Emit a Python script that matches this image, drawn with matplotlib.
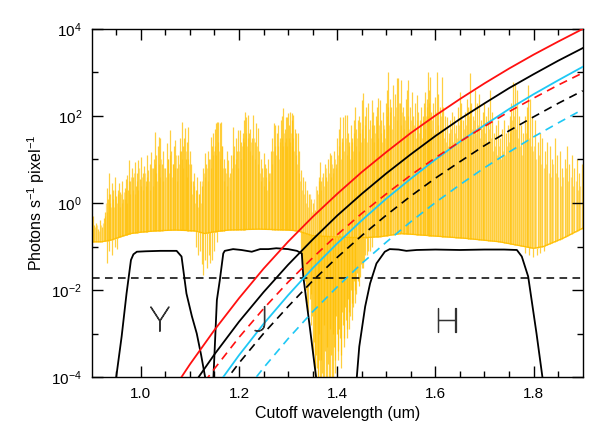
import numpy as np
import matplotlib
matplotlib.use("Agg")
import matplotlib.pyplot as plt
import matplotlib.patheffects as pe
from matplotlib.ticker import FixedLocator, NullFormatter, LogFormatterMathtext

plt.rcParams['font.family'] = ['Liberation Sans', 'DejaVu Sans']
plt.rcParams['mathtext.default'] = 'regular'

# ---------------- data (log10 values) ----------------
# sky continuum
cont_wl = [0.90, 0.92, 0.94, 0.96, 0.98, 1.00, 1.03, 1.07, 1.11, 1.13, 1.15, 1.18, 1.24,
           1.30, 1.32, 1.35, 1.40, 1.45, 1.49, 1.53, 1.60, 1.66, 1.73, 1.80, 1.82, 1.86, 1.90]
cont_log = [-0.89, -0.89, -0.85, -0.77, -0.70, -0.67, -0.64, -0.62, -0.64, -0.70, -0.66, -0.62, -0.60,
            -0.62, -0.64, -0.75, -0.78, -0.80, -0.77, -0.70, -0.76, -0.81, -0.89, -1.04, -1.00, -0.81, -0.58]

# strong OH emission lines: wavelength and log10 peak
oh_wl = [0.902, 0.905, 0.909, 0.913, 0.917, 0.921, 0.925, 0.928,
         0.931, 0.933, 0.936, 0.938, 0.941, 0.944, 0.947, 0.950, 0.953, 0.956, 0.958, 0.961, 0.964, 0.967, 0.969,
         0.971, 0.974, 0.977, 0.979, 0.982, 0.985, 0.988, 0.990, 0.993, 0.995, 0.998, 1.001, 1.004, 1.007, 1.010,
         1.012, 1.015, 1.018, 1.021, 1.024, 1.027,
         1.029, 1.032, 1.035, 1.038, 1.040, 1.043, 1.046, 1.049, 1.053, 1.056, 1.059, 1.062, 1.065, 1.068, 1.070,
         1.073, 1.076, 1.079, 1.081, 1.083, 1.086, 1.088, 1.090, 1.093, 1.095, 1.097, 1.100,
         1.103, 1.106, 1.109, 1.112, 1.115, 1.118, 1.121, 1.124, 1.127, 1.130, 1.133, 1.136, 1.139, 1.142, 1.145, 1.148,
         1.151, 1.153, 1.155, 1.158, 1.161, 1.163, 1.166, 1.169, 1.172, 1.175, 1.178, 1.181, 1.184, 1.187, 1.190,
         1.193, 1.196, 1.199,
         1.202, 1.205, 1.208, 1.210, 1.212, 1.215, 1.218, 1.220, 1.223, 1.226, 1.229, 1.232, 1.235, 1.238, 1.241, 1.244,
         1.247, 1.250, 1.253, 1.256, 1.259, 1.262, 1.265, 1.268, 1.271, 1.274,
         1.277, 1.280, 1.283, 1.286, 1.288, 1.290, 1.293, 1.295, 1.297, 1.300, 1.302, 1.304, 1.307, 1.309, 1.311,
         1.314, 1.317, 1.320, 1.323,
         1.327, 1.331, 1.335, 1.339, 1.343, 1.347, 1.351, 1.355, 1.358, 1.362, 1.365, 1.368, 1.372, 1.375, 1.378,
         1.382, 1.385, 1.388, 1.391, 1.394, 1.397, 1.400,
         1.403, 1.406, 1.409, 1.412, 1.416, 1.419, 1.422, 1.425, 1.428, 1.431, 1.434, 1.436, 1.439, 1.442, 1.445,
         1.447, 1.450,
         1.453, 1.456, 1.459, 1.463, 1.466, 1.470, 1.473, 1.476, 1.479, 1.482, 1.484, 1.487, 1.490, 1.493, 1.496, 1.499,
         1.502, 1.504, 1.507, 1.510, 1.514, 1.517, 1.521, 1.524, 1.527, 1.531, 1.534, 1.537, 1.540, 1.543, 1.545,
         1.548, 1.552, 1.555, 1.558,
         1.562, 1.565, 1.568, 1.571, 1.574, 1.577, 1.579, 1.582, 1.584, 1.587, 1.589, 1.592, 1.595, 1.599, 1.603,
         1.606, 1.610, 1.613, 1.616, 1.619, 1.623,
         1.627, 1.630, 1.634, 1.638, 1.642, 1.646, 1.650, 1.653, 1.657, 1.661, 1.664, 1.667, 1.670, 1.673, 1.677,
         1.681, 1.685, 1.688, 1.692, 1.696, 1.699,
         1.703, 1.707, 1.711, 1.715, 1.719, 1.723, 1.727, 1.731, 1.735, 1.739, 1.743, 1.747, 1.751, 1.755, 1.759,
         1.762, 1.766, 1.770, 1.774, 1.778, 1.782, 1.786, 1.789, 1.793, 1.797,
         1.803, 1.808, 1.813, 1.818, 1.823, 1.828, 1.833, 1.838, 1.843, 1.848, 1.853, 1.858, 1.863, 1.868, 1.873,
         1.878, 1.883, 1.888, 1.893, 1.898]
oh_peak = [-0.3, -0.5, -0.45, -0.6, -0.4, -0.55, -0.35, -0.2,
           0.35, 0.1, 0.68, 0.2, 0.45, 0.3, 0.6, 0.15, 0.3, 0.45, 0.25, 0.5, 0.1, 0.35, 0.55,
           0.64, 0.3, 0.99, 0.5, 0.8, 0.6, 0.95, 0.4, 0.7, 0.99, 0.55, 1.06, 0.7, 0.85, 0.5,
           1.10, 0.75, 0.9, 1.18, 0.8, 1.0,
           1.64, 1.1, 1.3, 1.52, 1.5, 0.9, 1.2, 0.8, 1.37, 1.0, 1.68, 1.2, 0.9, 1.3, 1.45,
           0.8, 1.1, 1.5, 1.2, 1.87, 1.3, 1.5, 1.72, 1.0, 1.4, 1.75, 1.2,
           0.9, 0.5, 0.7, 0.3, 0.6, 0.2, 0.5, 0.4, 0.8, 1.14, 0.9, 1.2, 1.0, 1.52, 1.3, 1.6,
           1.7, 1.83, 1.87, 1.87, 1.83, 1.87, 1.3, 1.0, 0.8, 1.2, 0.99, 0.7, 1.1, 1.75, 1.3,
           1.5, 1.2, 1.68,
           1.68, 1.4, 1.6, 1.9, 2.10, 1.98, 2.02, 1.6, 1.7, 1.5, 2.02, 1.4, 1.83, 1.72, 1.2, 1.0,
           0.8, 1.14, 0.9, 0.8, 1.0, 0.7, 1.2, 1.5, 1.83, 1.79,
           1.6, 1.79, 1.5, 1.9, 2.0, 2.18, 1.7, 1.98, 1.98, 2.06, 1.8, 2.10, 1.9, 2.06, 2.02,
           1.7, 1.6, 1.6, 1.2,
           0.76, 0.6, 0.5, 0.3, 0.2, 0.1, 0.0, -0.16, 0.3, 0.6, 0.95, 0.5, 0.7, 0.9, 0.6,
           1.0, 1.14, 1.10, 0.8, 1.2, 0.9, 1.5,
           1.7, 1.98, 1.5, 1.98, 2.02, 2.02, 1.6, 1.4, 1.8, 1.5, 1.9, 2.21, 1.7, 1.9, 2.0,
           1.87, 2.37,
           2.52, 2.0, 2.2, 2.29, 1.9, 2.37, 2.1, 1.8, 2.0, 2.2, 2.41, 2.37, 1.9, 2.1, 1.7, 2.3,
           2.6, 3.02, 2.4, 2.2, 2.71, 2.5, 2.87, 2.87, 2.3, 2.83, 2.2, 2.0, 2.4, 2.6, 2.83,
           2.2, 2.56, 2.0, 2.3,
           2.48, 2.1, 1.9, 2.2, 2.0, 2.3, 2.56, 2.4, 3.02, 2.6, 2.90, 2.1, 2.3, 2.44, 3.02,
           2.5, 2.2, 2.90, 2.2, 2.0, 1.98,
           1.6, 1.9, 2.1, 2.0, 1.8, 2.2, 2.56, 2.3, 1.9, 2.1, 2.4, 2.2, 2.98, 2.3, 2.0,
           2.60, 2.3, 2.5, 1.9, 2.1, 2.3,
           2.0, 2.2, 2.60, 2.1, 1.6, 1.8, 1.9, 1.5, 1.7, 1.9, 1.6, 1.8, 2.0, 2.3, 2.79,
           2.75, 2.6, 2.0, 1.8, 1.6, 2.0, 2.2, 2.71, 2.4, 2.0,
           1.9, 1.4, 1.6, 1.5, 1.2, 1.4, 1.3, 1.0, 1.5, 1.1, 1.2, 0.8, 1.0, 1.3, 0.9,
           1.1, 0.8, 1.0, 0.7, 0.9]

# weaker OH lines in between: wavelength and log10 peak
weak_wl = [0.9035, 0.907, 0.911, 0.915, 0.919, 0.923, 0.9265, 0.9295, 0.932, 0.9345, 0.937, 0.9395, 0.9425,
           0.9455, 0.9485, 0.9515, 0.9545, 0.957, 0.9595, 0.9625, 0.9655, 0.968, 0.970, 0.9725, 0.9755, 0.978,
           0.9805, 0.9835, 0.9865, 0.989, 0.9915, 0.994, 0.9965,
           0.9995, 1.0025, 1.0055, 1.0085, 1.0115, 1.0135, 1.0165, 1.0195, 1.0225, 1.0255, 1.028, 1.0305, 1.0335,
           1.0365, 1.039, 1.0415, 1.0445, 1.0475, 1.051, 1.0545, 1.0575, 1.0605, 1.0635, 1.0665, 1.069, 1.0715,
           1.0745, 1.0775, 1.080, 1.0845, 1.087, 1.0915, 1.094, 1.096, 1.0985,
           1.1015, 1.1045, 1.1075, 1.1105, 1.1135, 1.1165, 1.1195, 1.1225, 1.1255, 1.1285, 1.1315, 1.1345, 1.1375,
           1.1405, 1.1435, 1.1465, 1.1495, 1.152, 1.154, 1.1565, 1.1595, 1.162, 1.1645, 1.1675, 1.1705, 1.1735,
           1.1765, 1.1795, 1.1825, 1.1855, 1.1885, 1.1915, 1.1945, 1.1975,
           1.2005, 1.2035, 1.2065, 1.209, 1.211, 1.2135, 1.2165, 1.219, 1.2215, 1.2245, 1.2275, 1.2305, 1.2335,
           1.2365, 1.2395, 1.2425, 1.2455, 1.2485, 1.2515, 1.2545, 1.2575, 1.2605, 1.2635, 1.2665, 1.2695, 1.2725,
           1.2755, 1.2785, 1.2815, 1.2845, 1.287, 1.289, 1.2915, 1.294, 1.296, 1.2985,
           1.301, 1.303, 1.3055, 1.308, 1.310, 1.3125, 1.3155, 1.3185, 1.3215, 1.325, 1.329, 1.333, 1.337, 1.341,
           1.345, 1.349, 1.353, 1.3565, 1.360, 1.3635, 1.3665, 1.370, 1.3735, 1.3765, 1.380, 1.3835, 1.3865,
           1.3895, 1.3925, 1.3955, 1.3985,
           1.4015, 1.4045, 1.4075, 1.4105, 1.414, 1.4175, 1.4205, 1.4235, 1.4265, 1.4295, 1.4325, 1.435, 1.4375,
           1.4405, 1.4435, 1.446, 1.4485, 1.4515, 1.4545, 1.4575, 1.461, 1.4645, 1.468, 1.4715, 1.4745, 1.4775,
           1.4805, 1.483, 1.4855, 1.4885, 1.4915, 1.4945, 1.4975,
           1.5005, 1.503, 1.5055, 1.5085, 1.512, 1.5155, 1.519, 1.5225, 1.5255, 1.529, 1.5325, 1.5355, 1.5385,
           1.5415, 1.544, 1.5465, 1.550, 1.5535, 1.5565, 1.560, 1.5635, 1.5665, 1.5695, 1.5725, 1.5755, 1.578,
           1.5805, 1.583, 1.5855, 1.588, 1.5905, 1.5935, 1.597, 1.601, 1.6045,
           1.608, 1.6115, 1.6145, 1.6175, 1.621, 1.625, 1.6285, 1.632, 1.636, 1.640, 1.644, 1.648, 1.6515, 1.655,
           1.659, 1.6625, 1.6655, 1.6685, 1.6715, 1.675, 1.679, 1.683, 1.6865, 1.690, 1.694, 1.6975,
           1.701, 1.705, 1.709, 1.713, 1.717, 1.721, 1.725, 1.729, 1.733, 1.737, 1.741, 1.745, 1.749, 1.753, 1.757,
           1.7605, 1.764, 1.768, 1.772, 1.776, 1.780, 1.784, 1.7875, 1.791, 1.795, 1.799,
           1.8005, 1.8055, 1.8105, 1.8155, 1.8205, 1.8255, 1.8305, 1.8355, 1.8405, 1.8455, 1.8505, 1.8555, 1.8605,
           1.8655, 1.8705, 1.8755, 1.8805, 1.8855, 1.8905, 1.8955]
weak_peak = [-0.6, -0.55, -0.5, -0.65, -0.5, -0.45, -0.3, 0.0, -0.2, 0.2, 0.0, -0.1, 0.1,
             -0.1, 0.3, 0.0, 0.2, -0.1, 0.2, 0.0, 0.25, 0.1, 0.3, 0.0, 0.5, 0.2,
             0.6, 0.3, 0.7, 0.2, 0.5, 0.3, 0.8,
             0.4, 0.6, 0.3, 0.7, 0.4, 0.6, 0.5, 0.3, 0.8, 0.4, 0.9, 0.7, 0.5,
             0.9, 0.6, 1.0, 0.5, 0.8, 0.6, 1.0, 0.7, 1.1, 0.6, 0.9, 0.8, 1.1,
             0.5, 0.9, 1.2, 1.0, 0.8, 1.2, 0.6, 1.0, 0.9,
             0.5, 0.2, 0.4, 0.0, 0.3, -0.1, 0.2, 0.0, 0.5, 0.7, 0.6, 0.8, 0.5,
             1.0, 0.8, 1.1, 1.2, 1.3, 1.1, 1.4, 1.2, 1.0, 1.3, 0.8, 0.5, 0.7,
             0.4, 0.6, 0.3, 0.8, 1.1, 0.9, 1.0, 0.8,
             1.2, 1.0, 1.3, 1.5, 1.4, 1.6, 1.3, 1.5, 1.2, 1.4, 1.1, 1.5, 1.0,
             1.3, 0.9, 0.7, 0.5, 0.6, 0.4, 0.6, 0.3, 0.5, 0.7, 0.9, 1.2, 1.3,
             1.1, 1.3, 1.0, 1.4, 1.5, 1.3, 1.6, 1.4, 1.5, 1.3,
             1.5, 1.4, 1.6, 1.3, 1.5, 1.2, 1.1, 0.9, 0.7, 0.5, 0.3, 0.2, 0.0, -0.1,
             0.2, -0.2, 0.1, 0.4, 0.2, 0.5, 0.3, 0.6, 0.4, 0.8, 0.5, 0.7, 0.6,
             0.9, 0.7, 1.0, 0.8,
             1.1, 1.3, 1.0, 1.4, 1.2, 1.5, 1.1, 1.3, 1.0, 1.4, 1.2, 1.6, 1.3,
             1.5, 1.2, 1.6, 1.4, 1.7, 1.5, 1.8, 1.4, 1.7, 1.5, 1.8, 1.4, 1.6,
             1.9, 1.5, 1.8, 1.6, 1.4, 1.8, 1.5,
             2.0, 2.2, 1.8, 2.1, 1.7, 2.0, 2.2, 1.9, 2.3, 1.8, 2.1, 1.7, 1.9,
             1.6, 2.0, 1.7, 1.9, 1.6, 1.8, 1.5, 1.9, 1.6, 1.8, 1.5, 1.9, 1.7,
             2.0, 2.2, 2.0, 2.3, 1.7, 1.9, 1.6, 2.1, 1.8,
             1.6, 2.0, 1.7, 1.5, 1.4, 1.3, 1.5, 1.7, 1.4, 1.6, 1.5, 1.8, 1.9, 1.5,
             1.7, 1.8, 1.5, 2.0, 2.2, 1.7, 1.9, 1.6, 1.8, 1.5, 1.7, 1.4,
             1.6, 1.4, 1.7, 1.5, 1.2, 1.3, 1.1, 1.3, 1.0, 1.2, 1.1, 1.3, 1.4, 1.6, 1.9,
             2.0, 1.7, 1.5, 1.3, 1.1, 1.4, 1.6, 1.9, 1.5, 1.3, 1.2,
             1.3, 1.0, 1.1, 0.9, 0.8, 0.9, 0.7, 0.6, 0.9, 0.7, 0.6, 0.4, 0.6,
             0.8, 0.5, 0.6, 0.4, 0.5, 0.3, 0.4]

# telluric absorption dips: wavelength and log10 minimum
abs_wl = [0.932, 0.936, 0.941, 0.947, 0.952,
          1.112, 1.116, 1.120, 1.124, 1.127, 1.131, 1.135, 1.139, 1.141, 1.145, 1.150, 1.155,
          1.326, 1.330, 1.334, 1.338, 1.342, 1.346, 1.349, 1.352, 1.354, 1.357, 1.360, 1.362, 1.365,
          1.368, 1.371, 1.374, 1.377, 1.380, 1.383, 1.386, 1.389, 1.392, 1.395, 1.398, 1.401, 1.404,
          1.407, 1.410, 1.413, 1.416, 1.419, 1.422, 1.425, 1.428, 1.431, 1.434, 1.437, 1.440, 1.444,
          1.448, 1.452, 1.457, 1.463, 1.470,
          1.328, 1.332, 1.336, 1.340, 1.344, 1.3475, 1.3505, 1.3555, 1.3585, 1.3615, 1.3635, 1.3665,
          1.3695, 1.3725, 1.3755, 1.3785, 1.3815, 1.3845, 1.3875, 1.3905, 1.3935, 1.3965, 1.3995,
          1.4025, 1.4055, 1.4085, 1.4115, 1.4145, 1.4175, 1.4205, 1.4235, 1.4265, 1.4295, 1.4325,
          1.4355, 1.4385, 1.4425, 1.446, 1.450, 1.455, 1.460, 1.466,
          1.782, 1.790, 1.798, 1.806, 1.814, 1.822]
abs_min = [-1.39, -1.1, -1.2, -1.0, -1.05,
           -1.0, -1.2, -1.1, -1.4, -1.66, -1.3, -1.5, -1.2, -1.39, -1.3, -1.1, -0.9,
           -1.2, -1.5, -1.8, -2.3, -1.9, -2.1, -2.6, -3.2, -4.2, -3.5, -4.2, -3.0, -4.2,
           -3.6, -4.2, -2.8, -4.2, -3.3, -4.2, -2.9, -4.2, -3.0, -3.6, -2.6, -3.4, -2.9,
           -3.8, -2.5, -3.3, -2.4, -3.1, -2.2, -2.9, -2.0, -2.7, -1.8, -2.3, -1.6, -1.9,
           -1.4, -1.5, -1.2, -1.1, -1.0,
           -1.4, -1.7, -2.0, -2.5, -2.2, -2.8, -3.5, -4.2, -3.8, -4.2, -3.6, -4.2,
           -3.9, -4.2, -3.4, -4.2, -3.7, -4.2, -3.5, -4.2, -3.3, -3.9, -3.0,
           -3.6, -3.1, -3.5, -2.8, -3.1, -2.7, -2.9, -2.5, -2.6, -2.3, -2.4,
           -2.0, -2.1, -1.8, -1.7, -1.5, -1.3, -1.2, -1.1,
           -1.15, -1.2, -1.25, -1.2, -1.15, -1.1]

# filter transmission curves (log10)
y_wl = [0.950, 0.961, 0.971, 0.980, 0.985, 0.992, 1.010, 1.040, 1.073, 1.083, 1.093, 1.104, 1.114, 1.123, 1.131]
y_log = [-4.0, -3.07, -2.08, -1.31, -1.18, -1.12, -1.11, -1.10, -1.10, -1.23, -2.08, -2.6, -3.0, -3.5, -4.0]
j_wl = [1.148, 1.155, 1.161, 1.168, 1.171, 1.188, 1.205, 1.226, 1.243, 1.260, 1.276, 1.300, 1.318, 1.328,
        1.331, 1.345, 1.357]
j_log = [-4.0, -2.23, -1.77, -1.16, -1.10, -1.06, -1.08, -1.12, -1.06, -1.06, -1.04, -1.06, -1.10, -1.16,
         -1.69, -2.92, -4.0]
h_wl = [1.440, 1.445, 1.457, 1.467, 1.480, 1.497, 1.507, 1.525, 1.541, 1.562, 1.600, 1.650, 1.700, 1.740,
        1.766, 1.776, 1.789, 1.806, 1.818]
h_log = [-4.0, -3.30, -2.38, -1.85, -1.39, -1.12, -1.06, -1.07, -1.10, -1.08, -1.07, -1.08, -1.07, -1.07,
         -1.08, -1.23, -1.69, -3.0, -4.0]

# dark-current style curves (log10)
cw = [1.08, 1.10, 1.15, 1.20, 1.25, 1.30, 1.35, 1.40, 1.45, 1.50, 1.55, 1.60, 1.65, 1.70, 1.75, 1.80, 1.85, 1.90]
red_solid = [-4.05, -3.71, -2.92, -2.19, -1.51, -0.89, -0.32, 0.21, 0.71, 1.17, 1.61, 2.01, 2.39, 2.75,
             3.09, 3.41, 3.71, 4.00]
cw2 = [1.10, 1.15, 1.20, 1.25, 1.30, 1.35, 1.40, 1.45, 1.50, 1.55, 1.60, 1.65, 1.70, 1.75, 1.80, 1.85, 1.90]
black_solid = [-4.29, -3.48, -2.73, -2.05, -1.42, -0.84, -0.29, 0.21, 0.68, 1.12, 1.54, 1.93, 2.29, 2.64,
               2.96, 3.27, 3.56]
cw3 = [1.13, 1.15, 1.20, 1.25, 1.30, 1.35, 1.40, 1.45, 1.50, 1.55, 1.60, 1.65, 1.70, 1.75, 1.80, 1.85, 1.90]
red_dash = [-4.11, -3.81, -3.09, -2.43, -1.82, -1.26, -0.73, -0.24, 0.21, 0.64, 1.04, 1.41, 1.76, 2.10,
            2.41, 2.71, 2.99]
cw4 = [1.15, 1.20, 1.25, 1.30, 1.35, 1.40, 1.45, 1.50, 1.55, 1.60, 1.65, 1.70, 1.75, 1.80, 1.85, 1.90]
cyan_solid = [-4.28, -3.50, -2.78, -2.12, -1.50, -0.93, -0.40, 0.10, 0.56, 1.00, 1.41, 1.79, 2.16, 2.50,
              2.82, 3.13]
black_dash = [-4.42, -3.68, -3.00, -2.38, -1.79, -1.25, -0.75, -0.28, 0.16, 0.57, 0.95, 1.32, 1.66, 1.98,
              2.29, 2.58]
cw5 = [1.20, 1.25, 1.30, 1.35, 1.40, 1.45, 1.50, 1.55, 1.60, 1.65, 1.70, 1.75, 1.80, 1.85, 1.90]
cyan_dash = [-4.51, -3.79, -3.12, -2.50, -1.93, -1.39, -0.90, -0.43, 0.01, 0.42, 0.81, 1.17, 1.52, 1.84, 2.15]

hline_log = -1.72

band_names = ['Y', 'J', 'H']
band_x = [1.039, 1.246, 1.623]
band_ylog = [-2.72, -2.71, -2.74]

# ---------------- plot ----------------
fig = plt.figure(figsize=(6.10, 4.36), dpi=100)
ax = fig.add_axes([0.1503, 0.1353, 0.8049, 0.7982])
ax.set_yscale('log')

orange = '#FFC000'
cwl = np.array(cont_wl)
clog = np.array(cont_log)
ax.plot(cwl, 10 ** clog, color=orange, lw=1.0, zorder=1)
base_w = 10 ** np.interp(weak_wl, cwl, clog)
ax.vlines(weak_wl, base_w, 10 ** np.array(weak_peak), color='#FFC830', lw=0.9, alpha=0.6, zorder=1)
base_e = 10 ** np.interp(oh_wl, cwl, clog)
ax.vlines(oh_wl, base_e, 10 ** np.array(oh_peak), color=orange, lw=0.9, alpha=0.75, zorder=1)
base_a = 10 ** np.interp(abs_wl, cwl, clog)
ax.vlines(abs_wl, 10 ** np.array(abs_min), base_a, color=orange, lw=0.9, alpha=0.75, zorder=1)

for wl, lg in [(y_wl, y_log), (j_wl, j_log), (h_wl, h_log)]:
    ax.plot(wl, 10 ** np.array(lg), color='black', lw=1.3, zorder=3)

ax.axhline(10 ** hline_log, color='black', lw=1.1, dashes=(5, 3.5), zorder=3)

cyan = '#1EC8F5'
ax.plot(cw, 10 ** np.array(red_solid), color='#FF1010', lw=1.3, zorder=4)
ax.plot(cw2, 10 ** np.array(black_solid), color='black', lw=1.3, zorder=4)
ax.plot(cw4, 10 ** np.array(cyan_solid), color=cyan, lw=1.3, zorder=4)
ax.plot(cw3, 10 ** np.array(red_dash), color='#FF1010', lw=1.2, dashes=(5, 3.5), zorder=4)
ax.plot(cw4, 10 ** np.array(black_dash), color='black', lw=1.2, dashes=(5, 3.5), zorder=4)
ax.plot(cw5, 10 ** np.array(cyan_dash), color=cyan, lw=1.2, dashes=(5, 3.5), zorder=4)

for name, bx, by in zip(band_names, band_x, band_ylog):
    ax.text(bx, 10 ** by, name, ha='center', va='center', fontsize=25,
            family=['Lato', 'DejaVu Sans'], fontweight='light', color='#333333', zorder=6,
            path_effects=[pe.Stroke(linewidth=0.9, foreground='#333333'), pe.Normal()])

ax.set_xlim(0.9, 1.9)
ax.set_ylim(1e-4, 1e4)

ax.xaxis.set_major_locator(FixedLocator([1.0, 1.2, 1.4, 1.6, 1.8]))
ax.xaxis.set_minor_locator(FixedLocator([0.95, 1.05, 1.1, 1.15, 1.25, 1.3, 1.35, 1.45, 1.5, 1.55,
                                         1.65, 1.7, 1.75, 1.85]))
ax.set_xticklabels(['1.0', '1.2', '1.4', '1.6', '1.8'])
ax.yaxis.set_major_locator(FixedLocator([1e-4, 1e-2, 1e0, 1e2, 1e4]))
ax.yaxis.set_major_formatter(LogFormatterMathtext())
ax.yaxis.set_minor_locator(FixedLocator([1e-3, 1e-1, 1e1, 1e3]))
ax.yaxis.set_minor_formatter(NullFormatter())

ax.tick_params(which='both', direction='in', top=True, right=True, width=1.0, labelsize=11)
ax.tick_params(which='major', length=8, pad=7)
ax.tick_params(which='minor', length=4.5)
for s in ax.spines.values():
    s.set_linewidth(1.0)

ax.set_xlabel('Cutoff wavelength (um)', fontsize=11.5, labelpad=4)
ax.set_ylabel('Photons s$^{-1}$ pixel$^{-1}$', fontsize=11.5, labelpad=3)

fig.savefig('out.png', dpi=100)
